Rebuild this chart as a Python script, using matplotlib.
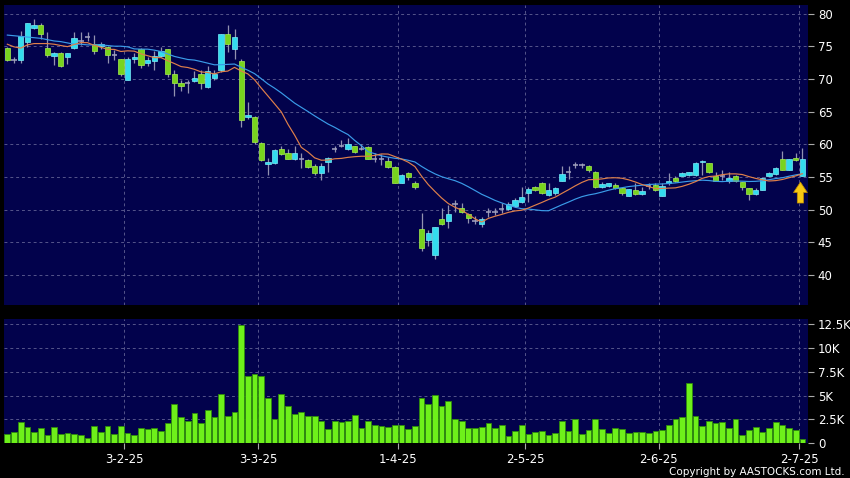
import numpy as np
import pandas as pd
import matplotlib
matplotlib.use('Agg')
import matplotlib.pyplot as plt

# daily OHLC (120 sessions)
opens = [74.7, 72.9, 72.9, 75.6, 77.8, 78.2, 74.7, 73.5, 73.9, 73.3,
         74.7, 75.8, 76.4, 75.4, 75.0, 74.9, 73.6, 73.1, 69.8, 73.0,
         74.5, 72.5, 72.7, 73.5, 74.5, 70.7, 69.3, 69.3, 69.6, 70.8,
         68.7, 70.1, 71.3, 76.8, 74.5, 72.7, 64.1, 64.2, 60.2, 57.0,
         57.1, 59.2, 58.7, 57.8, 57.8, 57.6, 56.7, 55.6, 57.3, 59.2,
         59.7, 59.2, 59.7, 59.3, 59.5, 57.8, 57.8, 57.4, 56.5, 54.1,
         55.6, 54.0, 47.0, 45.3, 43.0, 48.5, 48.2, 50.8, 50.2, 49.3,
         48.3, 47.8, 49.7, 49.7, 50.1, 50.1, 50.5, 51.1, 52.5, 53.4,
         54.1, 52.3, 52.6, 54.4, 55.7, 56.8, 56.8, 56.6, 55.8, 53.5,
         53.6, 53.8, 53.3, 52.1, 53.0, 52.4, 53.6, 53.8, 52.1, 54.0,
         54.9, 55.2, 55.3, 55.3, 57.3, 57.1, 55.2, 55.1, 54.4, 55.2,
         54.2, 53.3, 52.4, 53.0, 55.2, 55.4, 57.8, 56.1, 57.9, 55.1]
highs = [74.9, 73.4, 77.4, 78.6, 79.2, 78.5, 77.2, 74.1, 74.1, 74.0,
         77.2, 77.2, 77.2, 76.7, 75.6, 75.0, 74.4, 73.1, 73.3, 73.9,
         74.7, 73.4, 74.3, 74.9, 74.6, 71.3, 69.8, 69.9, 71.2, 71.3,
         71.9, 71.3, 76.9, 78.2, 77.7, 73.0, 66.5, 64.3, 60.4, 57.9,
         59.3, 59.8, 59.2, 59.8, 58.6, 57.7, 56.9, 57.1, 58.1, 59.7,
         60.6, 60.9, 59.8, 60.1, 59.7, 58.6, 58.5, 58.1, 56.6, 55.4,
         55.8, 54.3, 49.5, 46.9, 47.4, 50.2, 50.7, 51.5, 51.0, 49.4,
         49.0, 48.9, 50.2, 50.2, 51.0, 51.2, 51.7, 53.4, 53.5, 53.6,
         54.2, 54.0, 53.5, 56.6, 56.6, 57.3, 57.1, 56.8, 55.9, 54.2,
         54.1, 54.0, 53.4, 53.2, 54.0, 53.5, 54.0, 54.0, 54.0, 55.6,
         55.1, 55.7, 55.8, 57.3, 57.6, 57.2, 55.8, 56.0, 55.8, 55.3,
         54.2, 53.3, 53.3, 55.0, 55.8, 56.5, 59.0, 57.8, 58.6, 59.4]
lows = [72.7, 72.5, 72.5, 74.9, 77.7, 76.1, 73.4, 72.1, 71.8, 72.3,
        74.5, 75.2, 75.8, 73.8, 74.6, 72.5, 72.9, 70.4, 69.8, 72.5,
        71.6, 71.9, 71.3, 73.4, 70.3, 67.4, 68.1, 67.8, 69.5, 68.5,
        68.6, 69.9, 71.1, 74.1, 73.1, 62.7, 63.8, 60.0, 57.5, 55.3,
        57.0, 58.4, 57.7, 57.6, 56.3, 56.3, 55.3, 54.5, 55.7, 58.8,
        59.6, 59.1, 58.6, 59.1, 57.7, 57.3, 56.8, 56.4, 54.0, 54.0,
        54.5, 53.1, 43.6, 44.4, 42.4, 47.7, 47.2, 49.7, 49.5, 48.0,
        47.8, 47.3, 48.9, 49.2, 49.5, 50.0, 50.4, 51.0, 51.2, 52.8,
        52.4, 52.0, 52.3, 54.3, 54.6, 56.3, 56.3, 55.8, 53.3, 53.3,
        53.5, 53.1, 52.3, 52.0, 52.3, 52.3, 53.2, 52.8, 52.0, 53.8,
        54.2, 55.1, 55.2, 55.2, 55.3, 55.6, 54.3, 54.5, 54.0, 54.2,
        53.0, 51.5, 52.3, 53.0, 55.1, 55.3, 56.0, 56.0, 57.5, 55.1]
closes = [72.9, 72.9, 76.5, 78.5, 78.2, 76.8, 73.7, 73.9, 72.0, 73.9,
          76.2, 75.8, 76.4, 74.3, 75.4, 73.6, 73.6, 70.7, 73.0, 73.4,
          72.1, 72.9, 73.5, 74.3, 70.7, 69.3, 68.9, 69.3, 70.2, 69.4,
          71.2, 70.8, 76.8, 75.3, 76.4, 63.7, 64.5, 60.3, 57.6, 57.3,
          59.1, 58.5, 57.8, 58.6, 57.8, 56.5, 55.6, 56.7, 57.9, 59.2,
          59.7, 60.1, 58.8, 59.3, 57.8, 57.8, 57.8, 56.5, 54.1, 55.3,
          55.0, 53.4, 44.1, 46.4, 47.3, 47.8, 49.3, 50.8, 49.7, 48.7,
          48.3, 48.5, 49.7, 49.7, 50.1, 50.9, 51.5, 51.9, 53.1, 53.0,
          52.5, 53.0, 53.3, 55.5, 55.7, 56.8, 56.8, 56.0, 53.4, 53.9,
          54.0, 53.3, 52.5, 53.1, 52.4, 52.9, 53.6, 53.0, 53.6, 54.4,
          54.4, 55.6, 55.7, 57.1, 57.4, 55.7, 54.4, 55.1, 54.8, 54.4,
          53.4, 52.4, 53.0, 54.9, 55.6, 56.3, 56.1, 57.8, 57.6, 57.8]
# volume in thousands
volume = [0.98, 1.22, 2.2, 1.71, 1.22, 1.57, 0.87, 1.75, 0.98, 1.12,
          0.98, 0.87, 0.52, 1.82, 1.22, 1.85, 0.98, 1.78, 1.08, 0.84,
          1.64, 1.5, 1.57, 1.29, 2.13, 4.09, 2.76, 2.38, 3.22, 2.1,
          3.46, 2.73, 5.21, 2.87, 3.25, 12.4, 7.06, 7.24, 7.03, 4.72,
          2.52, 5.21, 3.88, 3.08, 3.32, 2.87, 2.87, 2.31, 1.5, 2.38,
          2.27, 2.31, 3.01, 1.57, 2.34, 1.89, 1.78, 1.71, 1.92, 1.92,
          1.5, 1.78, 4.72, 4.13, 5.03, 3.88, 4.44, 2.52, 2.31, 1.57,
          1.64, 1.75, 2.1, 1.64, 1.89, 0.8, 1.29, 1.89, 0.98, 1.15,
          1.29, 0.87, 1.05, 2.34, 1.29, 2.52, 1.01, 1.4, 2.52, 1.5,
          1.08, 1.64, 1.54, 1.12, 1.19, 1.19, 1.08, 1.26, 1.36, 1.92,
          2.55, 2.73, 6.36, 2.83, 1.82, 2.38, 2.13, 2.2, 1.61, 2.52,
          0.87, 1.36, 1.71, 1.15, 1.57, 2.27, 1.89, 1.64, 1.36, 0.45]
# moving averages before enough history exists
ma10_head = [75.3, 74.9, 74.7, 75.2, 75.4, 75.4, 75.4, 75.3, 75.1]
ma20_head = [76.7, 76.6, 76.5, 76.4, 76.3, 76.2, 76.0, 75.8, 75.7, 75.5,
             75.3, 75.3, 75.2, 75.2, 75.2, 75.1, 75.0, 75.0, 74.9]

date_pos = [17.5, 37.5, 58.5, 77.5, 97.5, 118.5]
date_labels = ['3-2-25', '3-3-25', '1-4-25', '2-5-25', '2-6-25', '2-7-25']
price_ticks = [40, 45, 50, 55, 60, 65, 70, 75, 80]
vol_ticks = [0, 2.5, 5, 7.5, 10, 12.5]
vol_labels = ['0', '2.5K', '5K', '7.5K', '10K', '12.5K']

o = np.array(opens); h = np.array(highs); l = np.array(lows); c = np.array(closes)
x = np.arange(len(c))

cl = pd.Series(closes)
ma10 = cl.rolling(10).mean()
ma10[:len(ma10_head)] = ma10_head
ma20 = cl.rolling(20).mean()
ma20[:len(ma20_head)] = ma20_head

navy = '#02024c'
gridc = '#55558a'

fig = plt.figure(figsize=(8.5, 4.78), dpi=100, facecolor='black')
ax1 = fig.add_axes([0.0047, 0.362, 0.946, 0.6275])
ax2 = fig.add_axes([0.0047, 0.0726, 0.946, 0.2600])

for ax in (ax1, ax2):
    ax.set_facecolor(navy)
    for s in ax.spines.values():
        s.set_visible(False)
    ax.grid(True, color=gridc, linestyle=(0, (3, 3)), linewidth=0.7)
    ax.set_axisbelow(True)
    ax.yaxis.tick_right()
    ax.tick_params(axis='y', colors='#aaaaaa', labelcolor='white', length=4,
                   labelsize=8.5, pad=3)
    ax.set_xlim(-0.5, 119.85)
    ax.set_xticks(date_pos)

# candles
up = c > o
down = c < o
flat = c == o
ax1.vlines(x, l, h, color='#9292b0', linewidth=0.9, zorder=2)
ax1.bar(x[up], (c - o)[up], bottom=o[up], width=0.8, color='#33dcee',
        edgecolor='#7aeefa', linewidth=0.5, zorder=3)
ax1.bar(x[down], (o - c)[down], bottom=c[down], width=0.8, color='#78d41e',
        edgecolor='#a8f050', linewidth=0.5, zorder=3)
ax1.hlines(c[flat], x[flat] - 0.4, x[flat] + 0.4, color='#a4a4c0',
           linewidth=1.1, zorder=3)

ax1.plot(x, ma20, color='#3a9be8', linewidth=0.85, zorder=4)
ax1.plot(x, ma10, color='#e0804a', linewidth=0.85, zorder=4)

ax1.annotate('', xy=(x[-1] - 0.3, l[-1] - 0.9), xytext=(x[-1] - 0.3, l[-1] - 4.1),
             arrowprops=dict(arrowstyle='simple,head_width=1.0,head_length=0.75,tail_width=0.45',
                             fc='#f7c812', ec='#c08a00', lw=0.5,
                             shrinkA=0, shrinkB=0), zorder=5)

ax1.set_ylim(35.4, 81.3)
ax1.set_yticks(price_ticks)
ax1.tick_params(axis='x', length=0, labelbottom=False)

# volume
ax2.bar(x, volume, width=0.86, color='#6ef01a', edgecolor='#2f8c0c',
        linewidth=0.6, zorder=3)
ax2.set_ylim(0, 13.05)
ax2.set_yticks(vol_ticks, vol_labels)
ax2.set_xticks(date_pos, date_labels)
ax2.tick_params(axis='x', colors='#aaaaaa', labelcolor='white', length=4,
                labelsize=8.5, pad=3)

fig.text(0.994, 0.003, 'Copyright by AASTOCKS.com Ltd.', color='white',
         fontsize=7.5, ha='right', va='bottom')

fig.savefig('out.png', dpi=100, facecolor='black')
